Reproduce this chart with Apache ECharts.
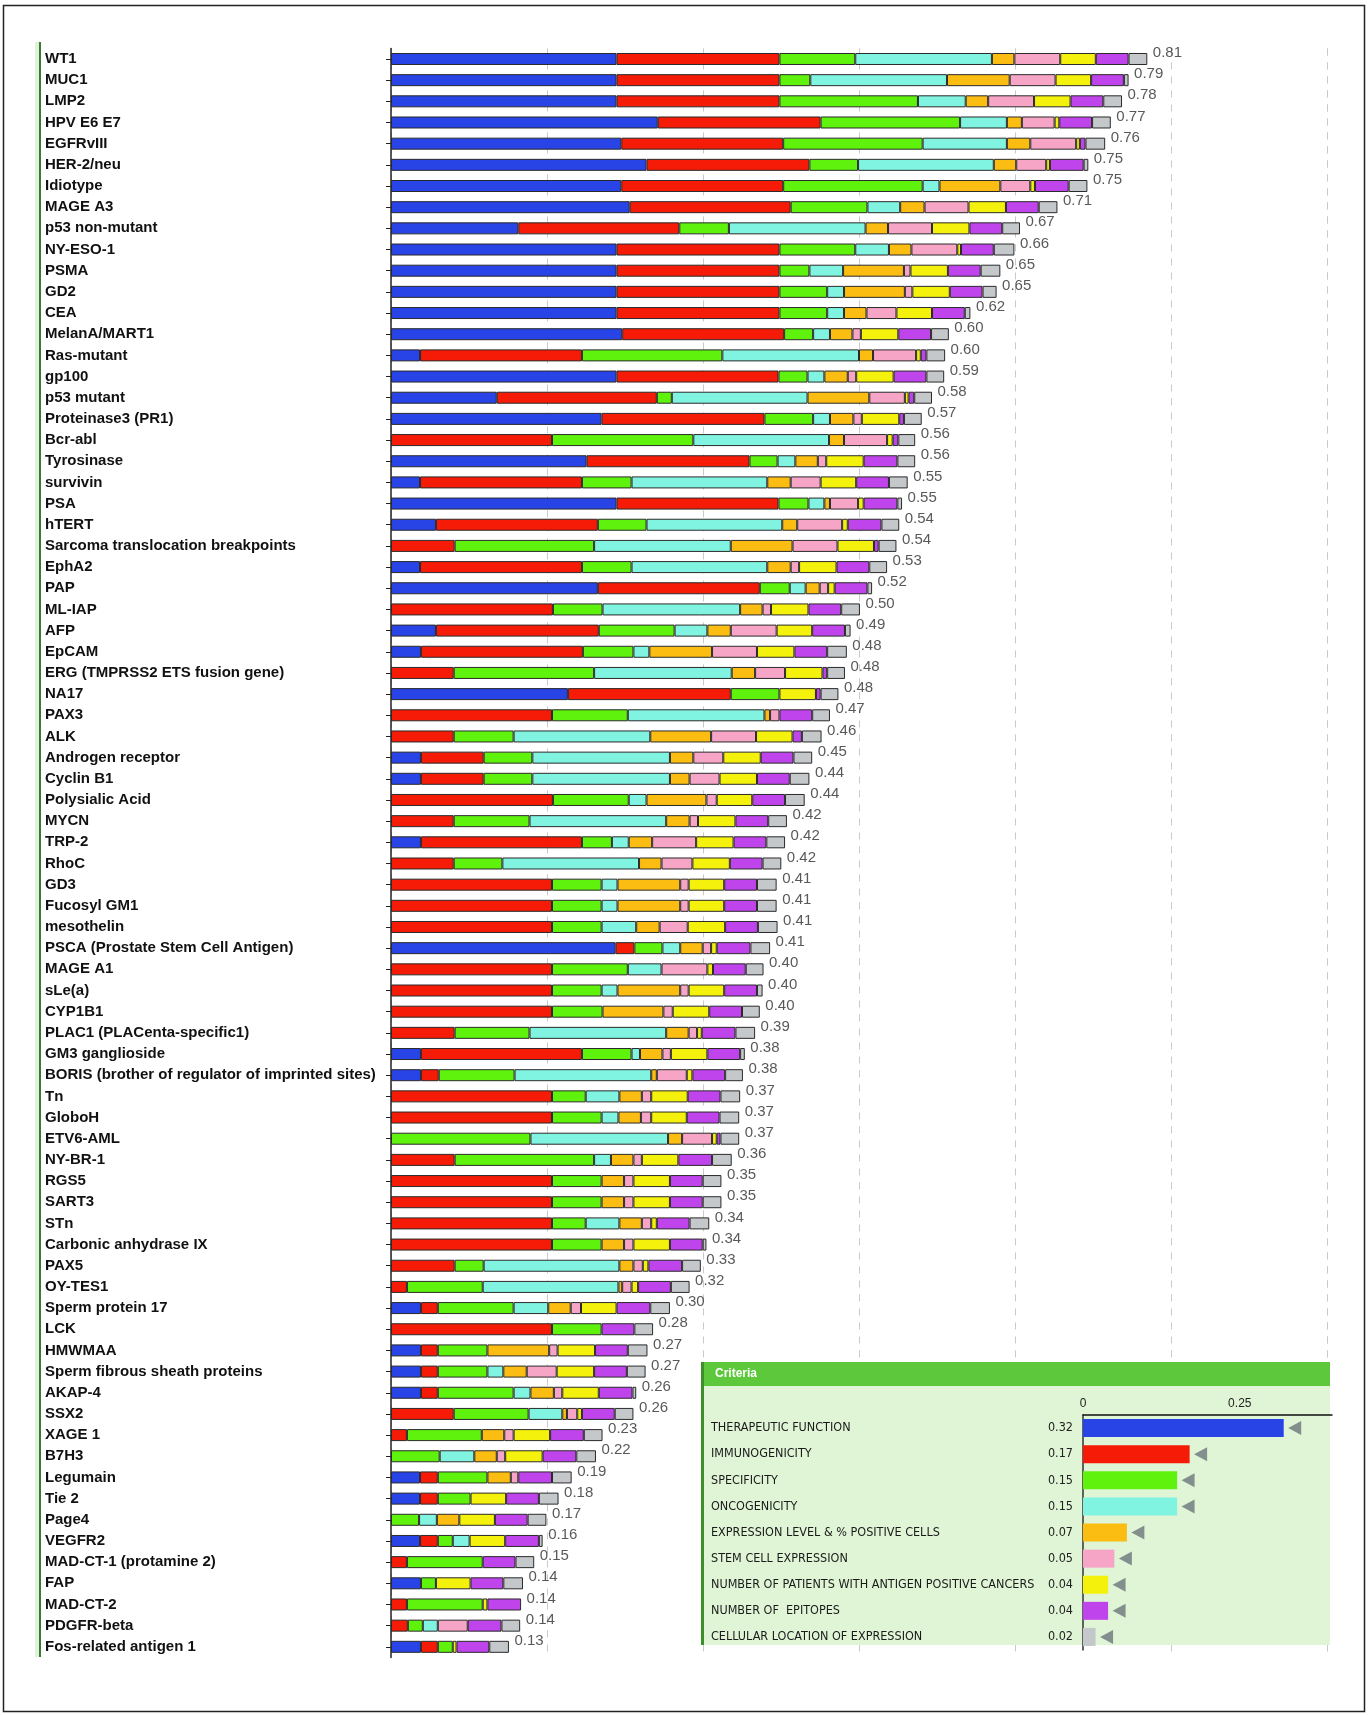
<!DOCTYPE html>
<html>
<head>
<meta charset="utf-8">
<script src="https://cdn.jsdelivr.net/npm/echarts@6.0.0/dist/echarts.min.js"></script>
<style>
html,body{margin:0;padding:0;background:#fff;}
#chart{width:1368px;height:1715px;}
</style>
</head>
<body>
<div id="chart"></div>
<script>
const antigens = ["WT1","MUC1","LMP2","HPV E6 E7","EGFRvIII","HER-2/neu","Idiotype","MAGE A3","p53 non-mutant","NY-ESO-1",
"PSMA","GD2","CEA","MelanA/MART1","Ras-mutant","gp100","p53 mutant","Proteinase3 (PR1)","Bcr-abl","Tyrosinase",
"survivin","PSA","hTERT","Sarcoma translocation breakpoints","EphA2","PAP","ML-IAP","AFP","EpCAM","ERG (TMPRSS2 ETS fusion gene)",
"NA17","PAX3","ALK","Androgen receptor","Cyclin B1","Polysialic Acid","MYCN","TRP-2","RhoC","GD3",
"Fucosyl GM1","mesothelin","PSCA (Prostate Stem Cell Antigen)","MAGE A1","sLe(a)","CYP1B1","PLAC1 (PLACenta-specific1)","GM3 ganglioside","BORIS (brother of regulator of imprinted sites)","Tn",
"GloboH","ETV6-AML","NY-BR-1","RGS5","SART3","STn","Carbonic anhydrase IX","PAX5","OY-TES1","Sperm protein 17",
"LCK","HMWMAA","Sperm fibrous sheath proteins","AKAP-4","SSX2","XAGE 1","B7H3","Legumain","Tie 2","Page4",
"VEGFR2","MAD-CT-1 (protamine 2)","FAP","MAD-CT-2","PDGFR-beta","Fos-related antigen 1"];

const scores = [0.81,0.79,0.78,0.77,0.76,0.75,0.75,0.71,0.67,0.66,
0.65,0.65,0.62,0.60,0.60,0.59,0.58,0.57,0.56,0.56,
0.55,0.55,0.54,0.54,0.53,0.52,0.50,0.49,0.48,0.48,
0.48,0.47,0.46,0.45,0.44,0.44,0.42,0.42,0.42,0.41,
0.41,0.41,0.41,0.40,0.40,0.40,0.39,0.38,0.38,0.37,
0.37,0.37,0.36,0.35,0.35,0.34,0.34,0.33,0.32,0.30,
0.28,0.27,0.27,0.26,0.26,0.23,0.22,0.19,0.18,0.17,
0.16,0.15,0.14,0.14,0.14,0.13];

const therapeutic = [
0.241,0.241,0.241,0.285,0.246,0.273,0.246,0.255,0.136,0.241,
0.241,0.241,0.241,0.247,0.031,0.241,0.113,0.225,0,0.209,
0.031,0.241,0.048,0,0.031,0.221,0,0.048,0.032,0,
0.189,0,0,0.032,0.032,0,0,0.032,0,0,
0,0,0.240,0,0,0,0,0.032,0.032,0,
0,0,0,0,0,0,0,0,0,0.032,
0,0.032,0.032,0.032,0,0,0,0.031,0.031,0,
0.031,0,0.032,0,0,0.032];

const immunogenicity = [
0.174,0.174,0.174,0.174,0.173,0.174,0.173,0.172,0.172,0.174,
0.174,0.174,0.174,0.173,0.173,0.173,0.171,0.174,0.172,0.174,
0.173,0.173,0.173,0.068,0.173,0.173,0.173,0.174,0.173,0.067,
0.174,0.172,0.067,0.067,0.067,0.173,0.067,0.172,0.067,0.172,
0.172,0.172,0.020,0.172,0.172,0.172,0.068,0.172,0.019,0.172,
0.172,0,0.068,0.172,0.172,0.172,0.172,0.068,0.017,0.018,
0.172,0.018,0.018,0.018,0.067,0.017,0,0.019,0.019,0,
0.019,0.017,0,0.017,0.018,0.018];

const specificity = [
0.081,0.033,0.148,0.149,0.149,0.052,0.149,0.082,0.053,0.081,
0.032,0.051,0.051,0.031,0.150,0.031,0.016,0.052,0.151,0.030,
0.053,0.032,0.052,0.149,0.053,0.032,0.053,0.081,0.054,0.150,
0.052,0.081,0.064,0.052,0.052,0.081,0.081,0.032,0.052,0.053,
0.053,0.053,0.030,0.081,0.053,0.054,0.080,0.053,0.081,0.036,
0.053,0.149,0.149,0.053,0.053,0.036,0.053,0.031,0.081,0.081,
0.053,0.053,0.053,0.081,0.080,0.080,0.052,0.053,0.035,0.030,
0.016,0.081,0.016,0.081,0.016,0.016];

const oncogenicity = [
0.146,0.146,0.051,0.050,0.090,0.145,0.018,0.035,0.146,0.036,
0.036,0.018,0.018,0.018,0.146,0.018,0.145,0.018,0.145,0.019,
0.145,0.017,0.145,0.146,0.145,0.017,0.147,0.035,0.017,0.147,
0,0.146,0.146,0.147,0.147,0.019,0.146,0.018,0.146,0.017,
0.017,0.037,0.019,0.036,0.017,0,0.146,0.009,0.146,0.036,
0.018,0.147,0.018,0,0,0.036,0,0.145,0.145,0.037,
0,0,0.017,0.018,0.036,0,0.037,0,0,0.019,
0.018,0,0,0,0.016,0];

const expression = [
0.024,0.067,0.024,0.016,0.025,0.024,0.065,0.026,0.024,0.024,
0.065,0.065,0.024,0.024,0.015,0.025,0.066,0.025,0.016,0.024,
0.025,0.006,0.016,0.066,0.025,0.015,0.024,0.025,0.067,0.025,
0,0.006,0.065,0.025,0.021,0.064,0.025,0.025,0.024,0.067,
0.067,0.025,0.024,0,0.067,0.065,0.024,0.024,0.006,0.024,
0.024,0.015,0.024,0.024,0.024,0.024,0.024,0.015,0.004,0.024,
0,0.066,0.025,0.025,0.005,0.024,0.024,0.025,0,0.024,
0,0,0,0,0,0];

const stemCell = [
0.049,0.049,0.049,0.035,0.049,0.032,0.032,0.047,0.047,0.049,
0.007,0.008,0.032,0.009,0.046,0.009,0.038,0.009,0.046,0.009,
0.032,0.030,0.048,0.048,0.009,0.009,0.009,0.049,0.048,0.032,
0,0.010,0.048,0.032,0.032,0.011,0.009,0.047,0.033,0.009,
0.009,0.030,0.009,0.049,0.009,0.010,0.009,0.009,0.032,0.010,
0.011,0.032,0.009,0.010,0.010,0.010,0.010,0.010,0.010,0.011,
0,0.009,0.032,0.009,0.011,0.010,0.009,0.008,0,0,
0,0,0,0,0.032,0];

const patients = [
0.038,0.038,0.039,0.005,0.004,0.004,0.005,0.040,0.040,0.004,
0.040,0.040,0.038,0.040,0.005,0.040,0.004,0.040,0.006,0.040,
0.038,0.006,0.006,0.039,0.040,0.007,0.040,0.038,0.040,0.040,
0.039,0,0.039,0.040,0.040,0.038,0.040,0.040,0.040,0.038,
0.038,0.040,0.006,0.006,0.038,0.039,0.005,0.039,0.006,0.039,
0.038,0.005,0.039,0.039,0.039,0.006,0.039,0.006,0.007,0.038,
0,0.040,0.040,0.039,0.005,0.039,0.040,0,0.038,0.038,
0.038,0,0.037,0.005,0,0.004];

const epitopes = [
0.035,0.035,0.035,0.035,0.006,0.036,0.036,0.035,0.035,0.035,
0.035,0.035,0.035,0.035,0.006,0.035,0.006,0.005,0.006,0.036,
0.035,0.036,0.036,0.005,0.035,0.035,0.035,0.035,0.035,0.005,
0.005,0.035,0.010,0.035,0.035,0.035,0.035,0.035,0.035,0.035,
0.035,0.035,0.036,0.035,0.035,0.035,0.036,0.035,0.035,0.035,
0.035,0.004,0.036,0.035,0.035,0.035,0.035,0.036,0.035,0.036,
0.035,0.035,0.035,0.036,0.035,0.036,0.036,0.036,0.035,0.035,
0.036,0.035,0.035,0.036,0.036,0.035];

const cellLocation = [
0.020,0.005,0.020,0.020,0.021,0.005,0.020,0.020,0.019,0.022,
0.021,0.015,0.006,0.019,0.020,0.019,0.019,0.019,0.018,0.019,
0.020,0.005,0.019,0.019,0.019,0.005,0.020,0.006,0.021,0.019,
0.019,0.019,0.021,0.020,0.021,0.021,0.020,0.020,0.020,0.021,
0.021,0.021,0.021,0.019,0.006,0.019,0.021,0.005,0.019,0.021,
0.021,0.020,0.021,0.020,0.020,0.021,0.004,0.020,0.020,0.021,
0.020,0.021,0.020,0.004,0.020,0.020,0.021,0.021,0.021,0.020,
0.004,0.020,0.021,0,0.020,0.021];

const criteriaNames = ["THERAPEUTIC FUNCTION","IMMUNOGENICITY","SPECIFICITY","ONCOGENICITY","EXPRESSION LEVEL & % POSITIVE CELLS","STEM CELL EXPRESSION","NUMBER OF PATIENTS WITH ANTIGEN POSITIVE CANCERS","NUMBER OF  EPITOPES","CELLULAR LOCATION OF EXPRESSION"];
const criteriaWeights = [0.32,0.17,0.15,0.15,0.07,0.05,0.04,0.04,0.02];
const criteriaTicks = [0, 0.25];

const palette = ['#2843e6','#f51b06','#5ef20c','#80f4e0','#fbbd12','#f6a5c6','#f4f20c','#c044ec','#c4c8cb'];
const segments = [therapeutic, immunogenicity, specificity, oncogenicity, expression, stemCell, patients, epitopes, cellLocation];

const narrow = "'Liberation Sans Narrow','DejaVu Sans Condensed',Arial,sans-serif";
const sans = "'Liberation Sans',Arial,sans-serif";

const chart = echarts.init(document.getElementById('chart'), null, {renderer: 'canvas'});

const series = segments.map((arr, k) => ({
  name: criteriaNames[k],
  type: 'bar',
  stack: 'total',
  xAxisIndex: 0, yAxisIndex: 0,
  barWidth: 12,
  data: arr.map(v => v === 0 ? '-' : v),
  itemStyle: {color: palette[k], borderColor: '#2a2a2a', borderWidth: 1},
  emphasis: {disabled: true},
  z: 2
}));

const totals = antigens.map((_, i) => segments.reduce((s, a) => s + a[i], 0));
series.push({
  type: 'scatter',
  xAxisIndex: 0, yAxisIndex: 0,
  symbolSize: 1,
  itemStyle: {color: 'rgba(0,0,0,0)'},
  data: totals.map((t, i) => [t, i]),
  label: {
    show: true, position: 'right', distance: 5, offset: [0, -6],
    formatter: p => scores[p.dataIndex].toFixed(2),
    fontSize: 15, fontFamily: sans, color: '#2e2e2e'
  },
  z: 3
});

series.push({
  type: 'bar',
  xAxisIndex: 1, yAxisIndex: 1,
  barWidth: 18,
  data: criteriaWeights.map((w, i) => ({value: w, itemStyle: {color: palette[i]}})),
  label: {
    show: true, position: 'left', distance: 10,
    formatter: p => p.value.toFixed(2),
    fontSize: 12.5, fontFamily: narrow, color: '#222'
  },
  z: 6
});
series.push({
  type: 'scatter',
  xAxisIndex: 1, yAxisIndex: 1,
  symbol: 'triangle',
  symbolSize: [14, 13],
  symbolRotate: 90,
  symbolOffset: [11, 0],
  itemStyle: {color: '#6b757b'},
  data: criteriaWeights.map((w, i) => [w, i]),
  z: 7
});

const option = {
  animation: false,
  backgroundColor: '#ffffff',
  grid: [
    {left: 391, right: 41, top: 48.4, bottom: 57.6},
    {left: 1083, right: 36, top: 1415, bottom: 65}
  ],
  xAxis: [
    {
      type: 'value', gridIndex: 0, min: 0, max: 1, interval: 1/6,
      axisLine: {show: false}, axisTick: {show: false}, axisLabel: {show: false},
      splitLine: {show: true, lineStyle: {color: '#c9c9c9', type: [7, 7], width: 1}}
    },
    {
      type: 'value', gridIndex: 1, position: 'top', min: 0, max: 0.397,
      axisLine: {show: true, lineStyle: {color: '#111', width: 1.5}},
      axisTick: {show: false},
      axisLabel: {customValues: criteriaTicks, fontSize: 12, fontFamily: sans, color: '#222', margin: 5,
        formatter: v => v === 0 ? '0' : String(v)},
      splitLine: {show: false},
      z: 5
    }
  ],
  yAxis: [
    {
      type: 'category', gridIndex: 0, inverse: true, data: antigens,
      axisLine: {show: true, lineStyle: {color: '#222', width: 1.5}},
      axisTick: {show: true, alignWithLabel: true, length: 5, lineStyle: {color: '#222'}},
      axisLabel: {align: 'left', margin: 346, fontSize: 15, fontWeight: 'bold', fontFamily: sans, color: '#111', interval: 0}
    },
    {
      type: 'category', gridIndex: 1, inverse: true, data: criteriaNames,
      axisLine: {show: true, lineStyle: {color: '#333', width: 1.5}},
      axisTick: {show: false},
      axisLabel: {align: 'left', margin: 372, fontSize: 12.5, fontFamily: narrow, color: '#1a1a1a', interval: 0},
      z: 5
    }
  ],
  graphic: [
    {type: 'rect', z: 1, shape: {x: 3.5, y: 5.5, width: 1361, height: 1706}, style: {fill: 'none', stroke: '#222', lineWidth: 1.5}},
    {type: 'rect', z: 1, shape: {x: 35, y: 42, width: 4, height: 1615}, style: {fill: '#dff3d8'}},
    {type: 'line', z: 1, shape: {x1: 40, y1: 42, x2: 40, y2: 1657}, style: {stroke: '#3c7a34', lineWidth: 2}},
    {type: 'rect', z: 1, shape: {x: 701, y: 1386, width: 629, height: 259}, style: {fill: '#dff5d6'}},
    {type: 'rect', z: 1, shape: {x: 701, y: 1362, width: 629, height: 24}, style: {fill: '#5ec83c'}},
    {type: 'rect', z: 1, shape: {x: 701, y: 1362, width: 3, height: 283}, style: {fill: '#3b8f2c'}},
    {type: 'text', z: 2, x: 715, y: 1374, style: {text: 'Criteria', fill: '#ffffff', font: "bold 12px 'Liberation Sans',Arial,sans-serif", textVerticalAlign: 'middle'}}
  ],
  series: series
};
chart.setOption(option);
</script>
</body>
</html>
